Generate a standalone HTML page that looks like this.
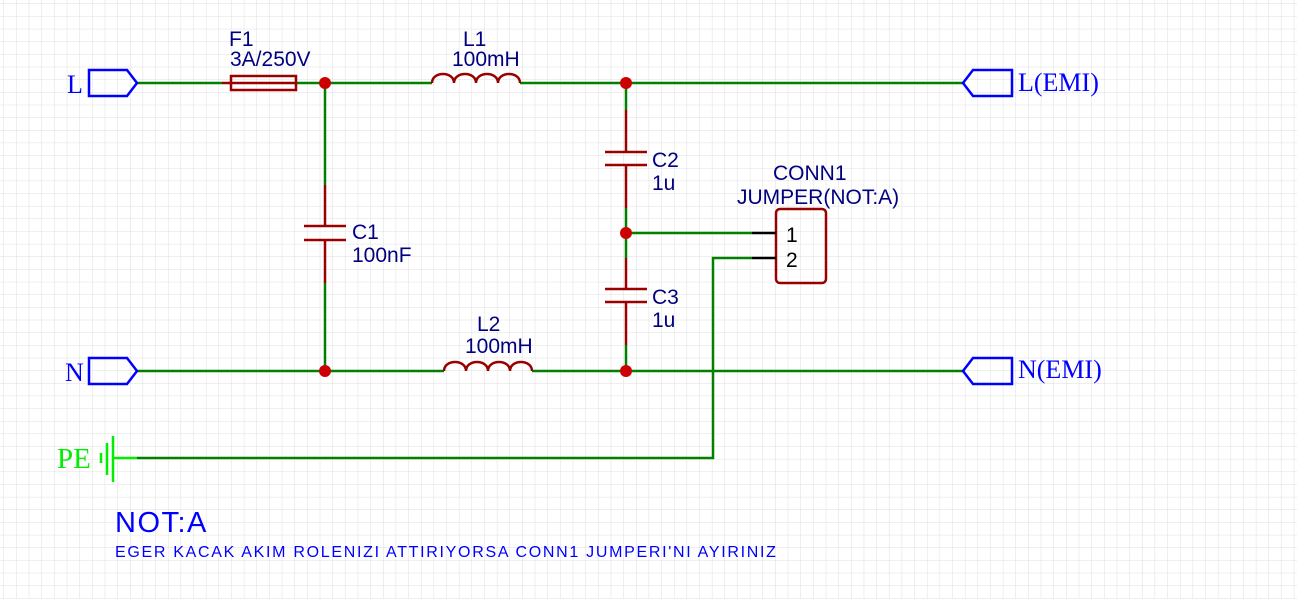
<!DOCTYPE html>
<html><head><style>
body{margin:0;background:#fff}
svg{display:block}
text{font-family:"Liberation Sans",sans-serif}
.s{font-family:"Liberation Serif",serif}
</style></head><body>
<svg width="1297" height="599" viewBox="0 0 1297 599" xmlns="http://www.w3.org/2000/svg">
<defs><pattern id="g" width="12.65" height="12.65" patternUnits="userSpaceOnUse" x="4" y="4">
<path d="M12.65 0V12.65H0" fill="none" stroke="#dedede" stroke-width="1"/></pattern></defs>
<rect width="1297" height="599" fill="url(#g)"/>
<g stroke="#008000" stroke-width="2.5" fill="none">
<path d="M137 83H222M297 83H432M520 83H963"/>
<path d="M137 371H444M532 371H963"/>
<path d="M325 83V185M325 283V371"/>
<path d="M626 83V110M626 208V258M626 345V371"/>
<path d="M626 233H752"/>
<path d="M137 458H713V258H752"/>
</g>
<g stroke="#990000" stroke-width="2.5" fill="none">
<path d="M222 83H297"/>
<rect x="231" y="76" width="65" height="14"/>
<path d="M432 83c0-12 22-12 22 0c0-12 22-12 22 0c0-12 22-12 22 0c0-12 22-12 22 0"/>
<path d="M444 371c0-12 22-12 22 0c0-12 22-12 22 0c0-12 22-12 22 0c0-12 22-12 22 0"/>
<path d="M325 185V226M325 240V283M304 226H346M304 240H346"/>
<path d="M626 110V152M626 165V208M605 152H647M605 165H647"/>
<path d="M626 258V289M626 302V345M605 289H647M605 302H647"/>
<rect x="776" y="209" width="50" height="74" rx="4"/>
</g>
<path d="M752 233H776M752 258H776" stroke="#000" stroke-width="2.5"/>
<g fill="#cc0000"><circle cx="325" cy="83" r="6"/><circle cx="626" cy="83" r="6"/><circle cx="626" cy="233" r="6"/><circle cx="325" cy="371" r="6"/><circle cx="626" cy="371" r="6"/></g>
<g stroke="#0000ff" stroke-width="2.5" fill="none">
<path d="M89 70H127L137 83L127 96H89Z"/>
<path d="M89 358H127L137 371L127 384H89Z"/>
<path d="M963 83L973 70H1012V96H973Z"/>
<path d="M963 371L973 358H1012V384H973Z"/>
</g>
<g stroke="#00ee00" stroke-width="2.5"><path d="M113 458H137M113 436V482M107 443V475M101 453V463"/></g>
<g fill="#0000ff" font-size="26">
<text x="67" y="93" class="s">L</text>
<text x="65" y="381" class="s">N</text>
<text x="1018" y="91" class="s">L(EMI)</text>
<text x="1018" y="378" class="s">N(EMI)</text>
</g>
<text x="57" y="468" class="s" font-size="29" fill="#00ee00">PE</text>
<g fill="#000080" font-size="21">
<text x="229" y="46">F1</text>
<text x="230" y="66">3A/250V</text>
<text x="463" y="46">L1</text>
<text x="452" y="66">100mH</text>
<text x="477" y="331">L2</text>
<text x="465" y="353">100mH</text>
<text x="352" y="239">C1</text>
<text x="352" y="262">100nF</text>
<text x="652" y="167">C2</text>
<text x="652" y="190">1u</text>
<text x="652" y="304">C3</text>
<text x="652" y="327">1u</text>
<text x="773" y="180">CONN1</text>
<text x="737" y="204">JUMPER(NOT:A)</text>
</g>
<g fill="#000" font-size="21"><text x="786" y="242">1</text><text x="786" y="267">2</text></g>
<text x="115" y="532" font-size="29" fill="#0000ff" letter-spacing="1.5">NOT:A</text>
<text x="115" y="557" font-size="16" fill="#0000ff" letter-spacing="1.7">EGER KACAK AKIM ROLENIZI ATTIRIYORSA CONN1 JUMPERI'NI AYIRINIZ</text>
</svg>
</body></html>
